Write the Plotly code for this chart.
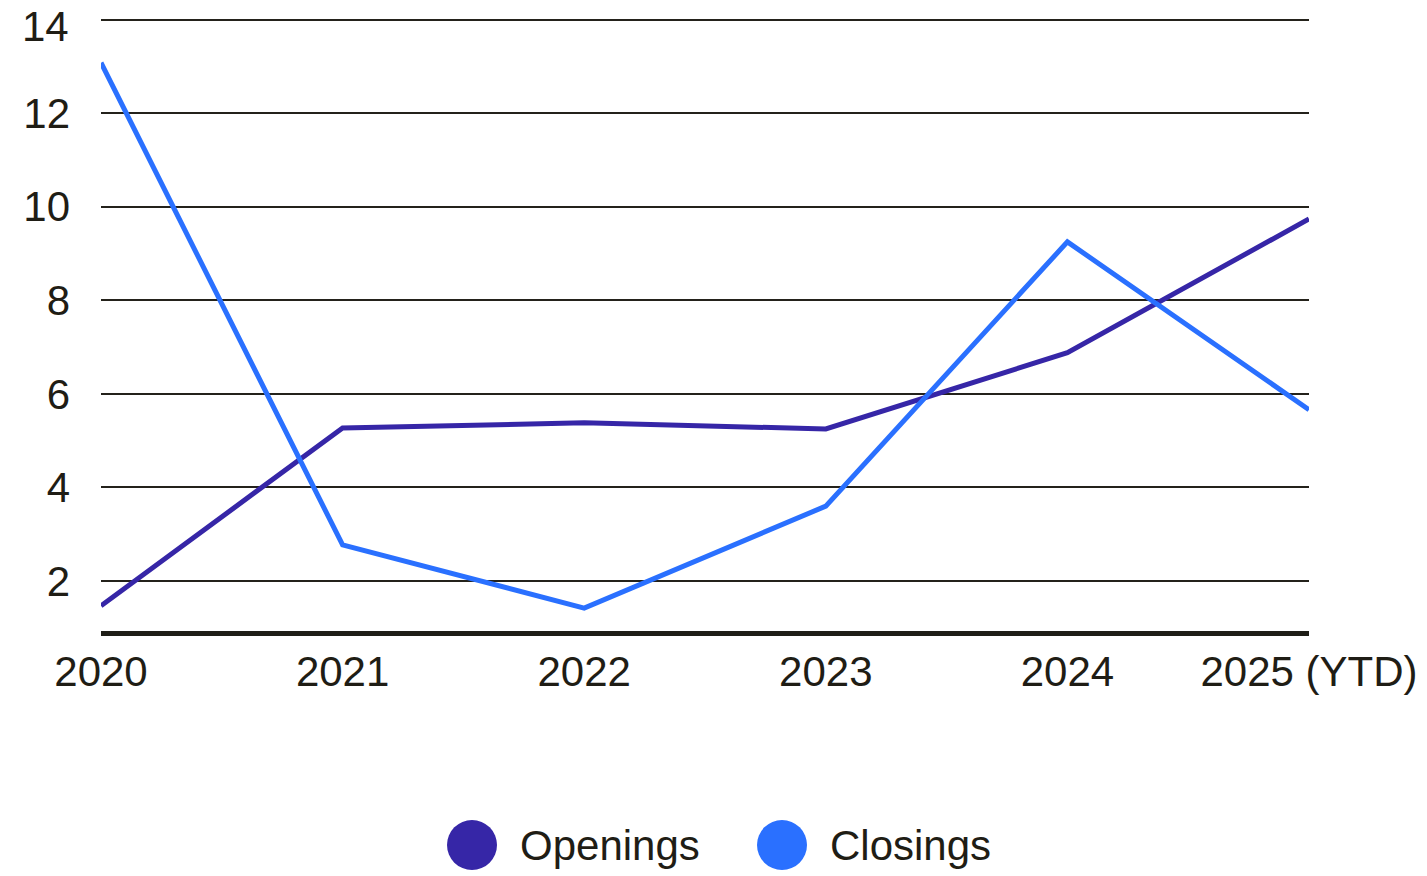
import plotly.graph_objects as go

# Yearly counts
years = ["2020", "2021", "2022", "2023", "2024", "2025 (YTD)"]
openings = [1.47, 5.27, 5.38, 5.25, 6.88, 9.74]
closings = [13.08, 2.77, 1.42, 3.60, 9.25, 5.66]

series_names = ["Openings", "Closings"]
series_colors = ["#3626A7", "#2A70FF"]

y_ticks = [2, 4, 6, 8, 10, 12, 14]

TEXT = "#1f1d15"
FONT = "Liberation Sans, Arial, sans-serif"

W, H = 1427, 876
L, R, T, B = 101, 118, 15, 245
plot_w = W - L - R
plot_h = H - T - B

fig = go.Figure()
for name, vals, col in zip(series_names, [openings, closings], series_colors):
    fig.add_trace(go.Scatter(
        x=years, y=vals, mode="lines", name=name,
        line=dict(color=col, width=5),
        showlegend=False,
    ))

# Legend drawn as large round swatches with labels beneath the plot
legend_items = [(472, 518), (782, 828)]
legend_cy = 845
for (cx, tx), name, col in zip(legend_items, series_names, series_colors):
    px = (cx - L) / plot_w
    py = (H - B - legend_cy) / plot_h
    fig.add_shape(
        type="circle", xref="paper", yref="paper",
        xsizemode="pixel", ysizemode="pixel",
        xanchor=px, yanchor=py,
        x0=-25, x1=25, y0=-25, y1=25,
        fillcolor=col, line=dict(width=0),
    )
    fig.add_annotation(
        x=(tx - L) / plot_w, y=py, xref="paper", yref="paper",
        text=name, showarrow=False, xanchor="left", yanchor="middle",
        font=dict(family=FONT, size=42, color=TEXT),
    )

# Top tick label sits at the upper edge, so place it as text nudged down
top = y_ticks[-1]
fig.add_annotation(
    x=0, y=top, xref="paper", yref="y",
    text=str(top), showarrow=False, xanchor="right", yanchor="middle",
    xshift=-30, yshift=-7,
    font=dict(family=FONT, size=42, color=TEXT),
)

fig.update_layout(
    width=W, height=H,
    margin=dict(l=L, r=R, t=T, b=B, autoexpand=False),
    paper_bgcolor="white", plot_bgcolor="white",
    font=dict(family=FONT, size=42, color=TEXT),
    showlegend=False,
)
fig.update_xaxes(
    type="category", range=[0, 5], automargin=False,
    showgrid=False, zeroline=False,
    showline=True, linecolor="#1f1e17", linewidth=5,
    ticks="", ticklabelstandoff=0,
    tickfont=dict(family=FONT, size=42, color=TEXT),
)
fig.update_yaxes(
    range=[0.93, 14.1], automargin=False,
    tickvals=y_ticks,
    ticktext=[str(v) if v != top else "" for v in y_ticks],
    showgrid=True, gridcolor="#24221b", gridwidth=2,
    zeroline=False, showline=False,
    ticks="", ticklabelstandoff=30,
    tickfont=dict(family=FONT, size=42, color=TEXT),
)

fig.write_html("out.html")
